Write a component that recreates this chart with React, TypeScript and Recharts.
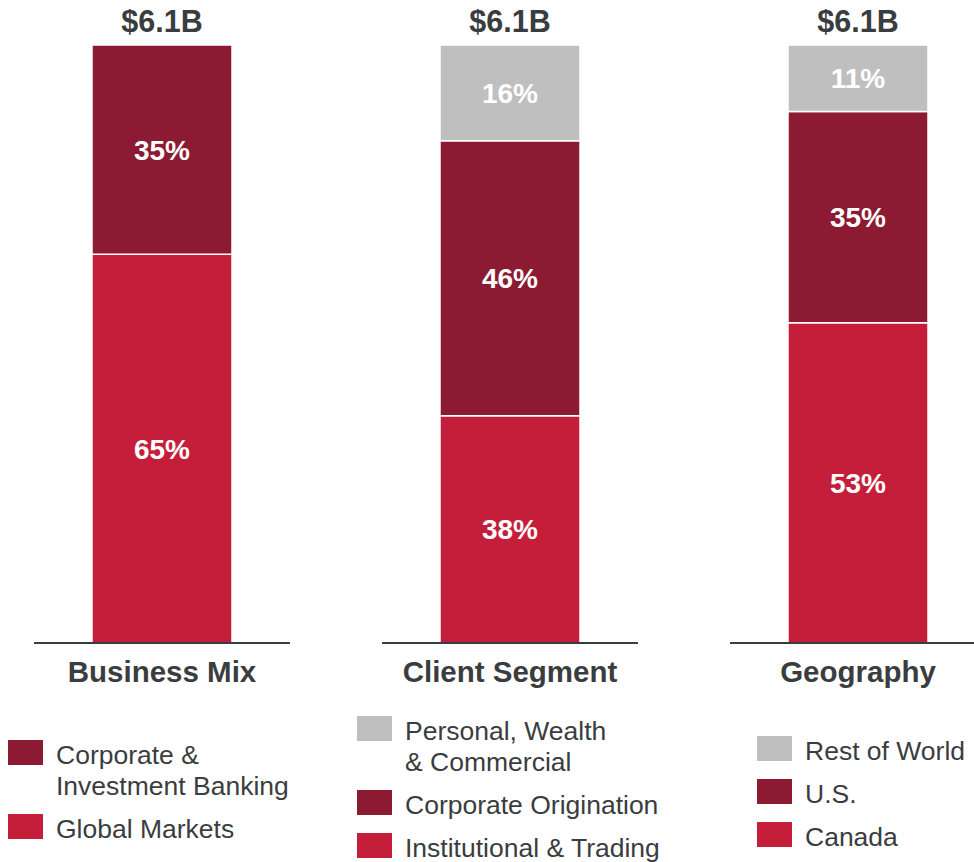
import React from "react";
import { BarChart, Bar, XAxis, YAxis, LabelList, Legend } from "recharts";

const panelNames = ["Business Mix", "Client Segment", "Geography"];
const panelTotals = ["$6.1B", "$6.1B", "$6.1B"];

// series listed bottom-to-top of each stack
const businessSeries = ["Global Markets", "Corporate &\nInvestment Banking"];
const businessValues = [65, 35];
const clientSeries = [
  "Institutional & Trading",
  "Corporate Origination",
  "Personal, Wealth\n& Commercial",
];
const clientValues = [38, 46, 16];
const geoSeries = ["Canada", "U.S.", "Rest of World"];
const geoValues = [53, 35, 11];

const segmentColors = ["#C41E3A", "#8B1A32", "#BFBFBF"];
const textColor = "#3a3d40";
const FONT = '"Liberation Sans", Arial, sans-serif';

interface PanelProps {
  index: number;
  series: string[];
  values: number[];
  legendLeft: number;
  legendTop: number;
}

const Panel: React.FC<PanelProps> = ({ index, series, values, legendLeft, legendTop }) => {
  const row: Record<string, string | number> = {
    name: panelNames[index],
    total: panelTotals[index],
  };
  values.forEach((v, i) => {
    row[`s${i}`] = v;
  });
  const data = [row];

  const renderTick = (props: any) => {
    const { x, y, payload } = props;
    return (
      <text
        x={x}
        y={y + 39}
        textAnchor="middle"
        fill={textColor}
        fontSize={29.5}
        fontWeight="bold"
        fontFamily={FONT}
      >
        {payload.value}
      </text>
    );
  };

  // legend reads top segment first
  const renderLegend = () => (
    <div style={{ display: "flex", flexDirection: "column", gap: 12 }}>
      {series
        .map((s, i) => ({ s, color: segmentColors[i] }))
        .reverse()
        .map(({ s, color }) => (
          <div key={s} style={{ display: "flex", alignItems: "flex-start" }}>
            <div
              style={{
                width: 35,
                height: 25,
                background: color,
                flexShrink: 0,
                marginRight: 13,
              }}
            />
            <div
              style={{
                fontSize: 26.5,
                lineHeight: "31px",
                color: textColor,
                fontFamily: FONT,
                whiteSpace: "pre",
              }}
            >
              {s}
            </div>
          </div>
        ))}
    </div>
  );

  return (
    <div style={{ position: "absolute", left: index * 348, top: 0 }}>
      <BarChart
        width={348}
        height={862}
        data={data}
        margin={{ top: 45, right: 58, left: 34, bottom: 159 }}
      >
        <XAxis
          dataKey="name"
          height={60}
          axisLine={{ stroke: textColor, strokeWidth: 2 }}
          tickLine={false}
          tickSize={0}
          tickMargin={0}
          tick={renderTick}
          interval={0}
        />
        <YAxis hide domain={[0, "dataMax"]} />
        <Legend
          layout="vertical"
          align="center"
          verticalAlign="middle"
          content={renderLegend}
          wrapperStyle={{ left: legendLeft, top: legendTop, width: 340 }}
        />
        {series.map((s, i) => (
          <Bar
            key={s}
            dataKey={`s${i}`}
            name={s}
            stackId="a"
            barSize={140}
            fill={segmentColors[i]}
            stroke="#ffffff"
            strokeWidth={1.5}
            isAnimationActive={false}
          >
            <LabelList
              dataKey={`s${i}`}
              position="center"
              fill="#ffffff"
              fontSize={28}
              fontWeight="bold"
              fontFamily={FONT}
              formatter={(v: any) => `${v}%`}
            />
            {i === series.length - 1 && (
              <LabelList
                dataKey="total"
                position="top"
                offset={13}
                fill={textColor}
                fontSize={30.5}
                fontWeight="bold"
                fontFamily={FONT}
              />
            )}
          </Bar>
        ))}
      </BarChart>
    </div>
  );
};

export default function App() {
  return (
    <div
      style={{
        position: "absolute",
        left: 0,
        top: 0,
        width: 974,
        height: 862,
        overflow: "hidden",
        background: "#ffffff",
        fontFamily: FONT,
      }}
    >
      <Panel index={0} series={businessSeries} values={businessValues} legendLeft={8} legendTop={740} />
      <Panel index={1} series={clientSeries} values={clientValues} legendLeft={9} legendTop={716} />
      <Panel index={2} series={geoSeries} values={geoValues} legendLeft={61} legendTop={736} />
    </div>
  );
}
